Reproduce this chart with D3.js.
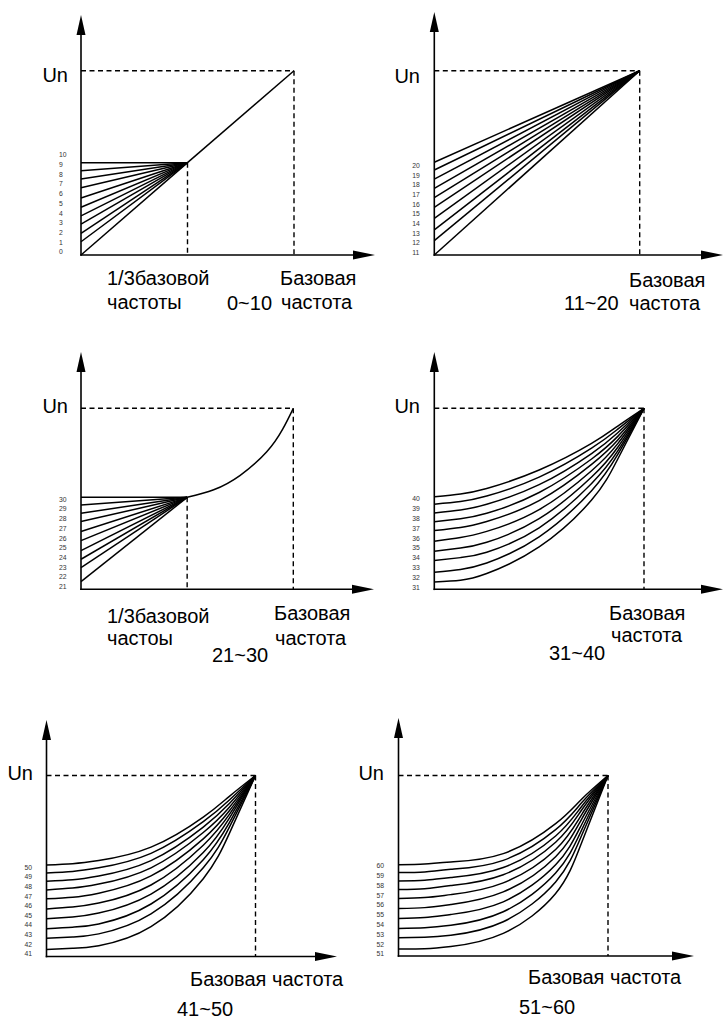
<!DOCTYPE html>
<html>
<head>
<meta charset="utf-8">
<script src="https://cdn.jsdelivr.net/npm/d3@7"></script>
<style>
  body { margin: 0; background: #fff; }
  svg { display: block; font-family: "Liberation Sans", Arial, Helvetica, sans-serif; }
  .curve { fill: none; stroke: #000; stroke-width: 1.5; }
  .axis { stroke: #000; stroke-width: 1.6; }
  .dash { stroke: #000; stroke-width: 1.4; stroke-dasharray: 5 3.5; }
  .lbl { font-size: 20px; fill: #000; }
  .tick { font-size: 6.8px; fill: #333; }
</style>
</head>
<body>
<script>
// U/f curve families, values are fractions of Un over fractions of base frequency

// panel 0~10: straight lines into the 1/3 point, then one line to Un
var curveNo1 = ["0", "1", "2", "3", "4", "5", "6", "7", "8", "9", "10"];
var start1 = [0, 0.072, 0.118, 0.168, 0.212, 0.259, 0.309, 0.365, 0.412, 0.457, 0.501];
var knee1 = [0.5, 0.501];

// panel 11~20: straight lines straight to Un
var curveNo2 = ["11", "12", "13", "14", "15", "16", "17", "18", "19", "20"];
var start2 = [0, 0.078, 0.136, 0.199, 0.259, 0.311, 0.362, 0.412, 0.461, 0.503];

// panel 21~30: lines into the 1/3 point, then one bent curve to Un
var curveNo3 = ["21", "22", "23", "24", "25", "26", "27", "28", "29", "30"];
var start3 = [0.042, 0.120, 0.166, 0.214, 0.269, 0.319, 0.374, 0.420, 0.466, 0.508];
var tailX3 = [0.5, 0.625, 0.75, 0.875, 0.95, 1];
var tailY3 = [0.508, 0.550, 0.630, 0.760, 0.885, 1];

// panels 31~40, 41~50, 51~60: curves sampled at these frequencies
var sampleX = [0, 0.125, 0.25, 0.5, 0.75, 0.875, 1];

var curveNo4 = ["31", "32", "33", "34", "35", "36", "37", "38", "39", "40"];
var curves4 = [
  [0.041, 0.050, 0.087, 0.234, 0.493, 0.720, 1],
  [0.094, 0.110, 0.145, 0.290, 0.545, 0.745, 1],
  [0.159, 0.175, 0.205, 0.340, 0.585, 0.765, 1],
  [0.210, 0.228, 0.260, 0.390, 0.620, 0.785, 1],
  [0.266, 0.286, 0.320, 0.440, 0.655, 0.805, 1],
  [0.325, 0.342, 0.375, 0.490, 0.690, 0.825, 1],
  [0.373, 0.390, 0.420, 0.535, 0.720, 0.845, 1],
  [0.421, 0.438, 0.470, 0.578, 0.750, 0.865, 1],
  [0.470, 0.485, 0.515, 0.620, 0.780, 0.885, 1],
  [0.511, 0.527, 0.557, 0.659, 0.806, 0.902, 1]
];

var curveNo5 = ["41", "42", "43", "44", "45", "46", "47", "48", "49", "50"];
var curves5 = [
  [0.039, 0.045, 0.060, 0.165, 0.430, 0.680, 1],
  [0.101, 0.108, 0.125, 0.235, 0.490, 0.715, 1],
  [0.153, 0.162, 0.180, 0.290, 0.535, 0.740, 1],
  [0.208, 0.218, 0.240, 0.345, 0.575, 0.765, 1],
  [0.263, 0.273, 0.295, 0.395, 0.615, 0.785, 1],
  [0.319, 0.328, 0.350, 0.445, 0.650, 0.805, 1],
  [0.368, 0.378, 0.400, 0.490, 0.685, 0.825, 1],
  [0.416, 0.424, 0.445, 0.530, 0.715, 0.845, 1],
  [0.462, 0.470, 0.490, 0.570, 0.745, 0.865, 1],
  [0.506, 0.513, 0.530, 0.604, 0.770, 0.885, 1]
];

var curveNo6 = ["51", "52", "53", "54", "55", "56", "57", "58", "59", "60"];
var curves6 = [
  [0.039, 0.040, 0.052, 0.125, 0.346, 0.630, 1],
  [0.101, 0.104, 0.115, 0.190, 0.410, 0.670, 1],
  [0.153, 0.157, 0.170, 0.245, 0.460, 0.700, 1],
  [0.208, 0.213, 0.230, 0.300, 0.505, 0.730, 1],
  [0.263, 0.268, 0.285, 0.355, 0.550, 0.760, 1],
  [0.319, 0.324, 0.340, 0.405, 0.590, 0.785, 1],
  [0.368, 0.373, 0.390, 0.450, 0.630, 0.810, 1],
  [0.416, 0.420, 0.435, 0.490, 0.665, 0.830, 1],
  [0.462, 0.466, 0.480, 0.530, 0.700, 0.850, 1],
  [0.506, 0.510, 0.521, 0.567, 0.733, 0.870, 1]
];

// where each small diagram sits on the page
var layout = [
  {ax: 81,    oy: 255,   bx: 294,   uy: 70.7,  top: 15,  tip: 375, lblTop: 155,   lblBot: 252},
  {ax: 434.3, oy: 255,   bx: 639.7, uy: 70.7,  top: 12,  tip: 723, lblTop: 165.7, lblBot: 252.7},
  {ax: 81,    oy: 589.3, bx: 293.3, uy: 408.3, top: 352, tip: 374, lblTop: 499.3, lblBot: 586.7},
  {ax: 434.3, oy: 589.3, bx: 644,   uy: 408.3, top: 352, tip: 723, lblTop: 499,   lblBot: 587.3},
  {ax: 46.5,  oy: 956.5, bx: 255.5, uy: 775.5, top: 720, tip: 337, lblTop: 867.3, lblBot: 954},
  {ax: 398.5, oy: 956,   bx: 608,   uy: 775.5, top: 718, tip: 694, lblTop: 865.7, lblBot: 954}
];

var captions = [
  [["Un", 68, 82, "end"], ["1/3базовой", 107, 285], ["частоты", 107, 309], ["0~10", 227, 310], ["Базовая", 280, 285], ["частота", 281, 309]],
  [["Un", 420, 82.5, "end"], ["Базовая", 629, 287], ["11~20", 564, 310], ["частота", 629, 310]],
  [["Un", 68, 413, "end"], ["1/3базовой", 107, 623], ["частоы", 107, 645], ["21~30", 212, 662], ["Базовая", 274, 620], ["частота", 275, 645]],
  [["Un", 420, 413, "end"], ["Базовая", 609, 620], ["частота", 611, 642], ["31~40", 549, 660]],
  [["Un", 33, 780, "end"], ["Базовая частота", 190, 986], ["41~50", 177, 1016]],
  [["Un", 384, 780, "end"], ["Базовая частота", 528, 984], ["51~60", 519, 1014]]
];

var svg = d3.select("body").append("svg")
    .attr("width", 724)
    .attr("height", 1021);

function drawPanel(i, lines, labels, knee) {
  var L = layout[i];
  var x = d3.scaleLinear().domain([0, 1]).range([L.ax, L.bx]);
  var y = d3.scaleLinear().domain([0, 1]).range([L.oy, L.uy]);
  var g = svg.append("g");

  // dashed guides to Un and base frequency
  g.append("line").attr("class", "dash")
    .attr("x1", x(0)).attr("x2", x(1)).attr("y1", y(1)).attr("y2", y(1));
  g.append("line").attr("class", "dash")
    .attr("x1", x(1)).attr("x2", x(1)).attr("y1", y(1)).attr("y2", y(0));
  if (knee) {
    g.append("line").attr("class", "dash")
      .attr("x1", x(knee[0])).attr("x2", x(knee[0])).attr("y1", y(knee[1])).attr("y2", y(0));
  }

  var line = d3.line()
    .x(function(d) { return x(d[0]); })
    .y(function(d) { return y(d[1]); })
    .curve(d3.curveNatural);

  g.selectAll("path.curve")
    .data(lines)
    .enter()
    .append("path")
    .attr("class", "curve")
    .attr("d", line);

  // axes with arrow heads
  g.append("line").attr("class", "axis")
    .attr("x1", L.ax).attr("x2", L.ax).attr("y1", L.oy + 0.8).attr("y2", L.top + 10);
  g.append("line").attr("class", "axis")
    .attr("x1", L.ax - 0.8).attr("x2", L.tip - 10).attr("y1", L.oy).attr("y2", L.oy);
  g.append("path")
    .attr("d", "M" + L.ax + "," + L.top + "L" + (L.ax - 4.5) + "," + (L.top + 20) + "L" + (L.ax + 4.5) + "," + (L.top + 20) + "Z")
    .attr("fill", "#000");
  g.append("path")
    .attr("d", "M" + L.tip + "," + L.oy + "L" + (L.tip - 22) + "," + (L.oy - 4.5) + "L" + (L.tip - 22) + "," + (L.oy + 4.5) + "Z")
    .attr("fill", "#000");

  // curve numbers beside the vertical axis
  var ly = d3.scalePoint().domain(labels).range([L.lblBot, L.lblTop]);
  g.selectAll("text.tick")
    .data(labels)
    .enter()
    .append("text")
    .attr("class", "tick")
    .attr("x", L.ax - 22)
    .attr("y", function(d) { return ly(d); })
    .attr("dy", "0.35em")
    .text(function(d) { return d; });

  g.selectAll("text.lbl")
    .data(captions[i])
    .enter()
    .append("text")
    .attr("class", "lbl")
    .attr("x", function(d) { return d[1]; })
    .attr("y", function(d) { return d[2]; })
    .attr("text-anchor", function(d) { return d[3] || "start"; })
    .text(function(d) { return d[0]; });
}

function zipXY(xs, ys) {
  return xs.map(function(v, k) { return [v, ys[k]]; });
}

// 0~10
var lines1 = start1.map(function(s) { return [[0, s], knee1]; });
lines1.push([knee1, [1, 1]]);
drawPanel(0, lines1, curveNo1, knee1);

// 11~20
drawPanel(1, start2.map(function(s) { return [[0, s], [1, 1]]; }), curveNo2, null);

// 21~30
var knee3 = [tailX3[0], tailY3[0]];
var lines3 = start3.map(function(s) { return [[0, s], knee3]; });
lines3.push(zipXY(tailX3, tailY3));
drawPanel(2, lines3, curveNo3, knee3);

// 31~40, 41~50, 51~60
drawPanel(3, curves4.map(function(c) { return zipXY(sampleX, c); }), curveNo4, null);
drawPanel(4, curves5.map(function(c) { return zipXY(sampleX, c); }), curveNo5, null);
drawPanel(5, curves6.map(function(c) { return zipXY(sampleX, c); }), curveNo6, null);
</script>
</body>
</html>
